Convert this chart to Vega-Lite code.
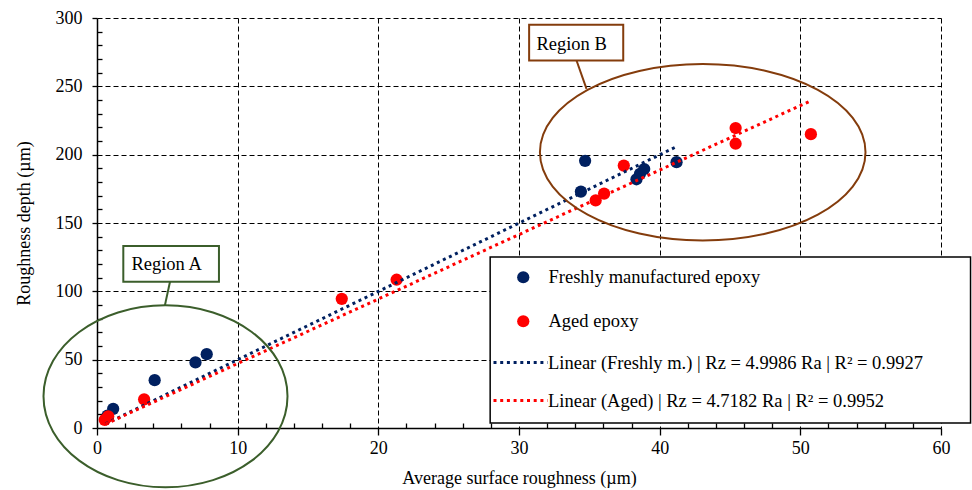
{
  "$schema": "https://vega.github.io/schema/vega-lite/v6.json",
  "width": 844,
  "height": 410,
  "autosize": {"type": "none"},
  "padding": {"left": 97, "top": 18, "right": 31, "bottom": 62},
  "background": "white",
  "config": {"font": "Liberation Serif", "view": {"stroke": null}},
  "datasets": {
    "points": [
      {"series": "Freshly manufactured epoxy", "ra": 0.75, "rz": 9},
      {"series": "Freshly manufactured epoxy", "ra": 1.15, "rz": 14},
      {"series": "Freshly manufactured epoxy", "ra": 4.1, "rz": 35},
      {"series": "Freshly manufactured epoxy", "ra": 7.0, "rz": 48},
      {"series": "Freshly manufactured epoxy", "ra": 7.8, "rz": 54},
      {"series": "Freshly manufactured epoxy", "ra": 34.4, "rz": 173},
      {"series": "Freshly manufactured epoxy", "ra": 34.7, "rz": 195.5},
      {"series": "Freshly manufactured epoxy", "ra": 38.35, "rz": 182},
      {"series": "Freshly manufactured epoxy", "ra": 38.6, "rz": 186},
      {"series": "Freshly manufactured epoxy", "ra": 38.9, "rz": 189.5},
      {"series": "Freshly manufactured epoxy", "ra": 41.2, "rz": 194.5},
      {"series": "Aged epoxy", "ra": 0.55, "rz": 6},
      {"series": "Aged epoxy", "ra": 0.8, "rz": 8.5},
      {"series": "Aged epoxy", "ra": 3.35, "rz": 21},
      {"series": "Aged epoxy", "ra": 17.4, "rz": 94.5},
      {"series": "Aged epoxy", "ra": 21.3, "rz": 108.5},
      {"series": "Aged epoxy", "ra": 35.45, "rz": 166.5},
      {"series": "Aged epoxy", "ra": 36.05, "rz": 171.5},
      {"series": "Aged epoxy", "ra": 37.45, "rz": 192},
      {"series": "Aged epoxy", "ra": 45.4, "rz": 208},
      {"series": "Aged epoxy", "ra": 45.4, "rz": 219.5},
      {"series": "Aged epoxy", "ra": 50.75, "rz": 215}
    ],
    "fits": [
      {"fit": "Linear (Freshly m.) | Rz = 4.9986 Ra | R² = 0.9927", "ra": 0.6, "rz": 3.0},
      {"fit": "Linear (Freshly m.) | Rz = 4.9986 Ra | R² = 0.9927", "ra": 41.2, "rz": 205.9},
      {"fit": "Linear (Aged) | Rz = 4.7182 Ra | R² = 0.9952", "ra": 0.6, "rz": 2.83},
      {"fit": "Linear (Aged) | Rz = 4.7182 Ra | R² = 0.9952", "ra": 50.65, "rz": 239.0}
    ]
  },
  "layer": [
    {
      "data": {"name": "points"},
      "mark": {"type": "point", "filled": true, "size": 150, "opacity": 1},
      "encoding": {
        "x": {
          "field": "ra", "type": "quantitative",
          "scale": {"domain": [0, 60], "nice": false, "zero": false},
          "axis": {
            "title": "Average surface roughness (µm)",
            "values": [0,2,4,6,8,10,12,14,16,18,20,22,24,26,28,30,32,34,36,38,40,42,44,46,48,50,52,54,56,58,60],
            "tickCount": 200,
            "format": "d",
            "labelExpr": "datum.value % 10 === 0 ? datum.label : ''",
            "labelOverlap": false,
            "labelFlush": false,
            "tickSize": {"condition": {"test": "datum.value % 10 === 0", "value": 7}, "value": -5},
            "grid": true,
            "gridOpacity": {"condition": {"test": "datum.value % 10 === 0 && datum.value > 0", "value": 1}, "value": 0},
            "gridDash": [5, 3], "gridColor": "#000", "gridWidth": 1,
            "domainColor": "#000", "domainWidth": 1.5,
            "tickColor": "#000", "tickWidth": 1.3,
            "labelFont": "Liberation Serif", "labelFontSize": 18, "labelColor": "#000", "labelPadding": 4,
            "titleFont": "Liberation Serif", "titleFontSize": 18, "titleFontWeight": "normal", "titleColor": "#000", "titlePadding": 12
          }
        },
        "y": {
          "field": "rz", "type": "quantitative",
          "scale": {"domain": [0, 300], "nice": false, "zero": false},
          "axis": {
            "title": "Roughness depth (µm)",
            "values": [0,10,20,30,40,50,60,70,80,90,100,110,120,130,140,150,160,170,180,190,200,210,220,230,240,250,260,270,280,290,300],
            "tickCount": 200,
            "format": "d",
            "labelExpr": "datum.value % 50 === 0 ? datum.label : ''",
            "labelOverlap": false,
            "labelFlush": false,
            "tickSize": {"condition": {"test": "datum.value % 50 === 0", "value": 5}, "value": -5},
            "grid": true,
            "gridOpacity": {"condition": {"test": "datum.value % 50 === 0 && datum.value > 0", "value": 1}, "value": 0},
            "gridDash": [5, 3], "gridColor": "#000", "gridWidth": 1,
            "domainColor": "#000", "domainWidth": 1.5,
            "tickColor": "#000", "tickWidth": 1.3,
            "labelFont": "Liberation Serif", "labelFontSize": 18, "labelColor": "#000", "labelPadding": 10,
            "titleFont": "Liberation Serif", "titleFontSize": 18, "titleFontWeight": "normal", "titleColor": "#000", "titlePadding": 22
          }
        },
        "color": {
          "field": "series", "type": "nominal",
          "scale": {"domain": ["Freshly manufactured epoxy", "Aged epoxy"], "range": ["#002060", "#FF0000"]},
          "legend": {
            "orient": "none", "legendX": 417, "legendY": 250, "title": null,
            "symbolType": "circle", "symbolSize": 150, "symbolOpacity": 1, "symbolStrokeWidth": 0,
            "labelFont": "Liberation Serif", "labelFontSize": 18.5, "labelColor": "#000",
            "labelOffset": 16, "rowPadding": 25, "padding": 0, "labelLimit": 600
          }
        }
      }
    },
    {
      "data": {"name": "fits"},
      "mark": {"type": "line", "strokeDash": [3, 3.7], "strokeWidth": 3},
      "encoding": {
        "x": {"field": "ra", "type": "quantitative"},
        "y": {"field": "rz", "type": "quantitative"},
        "stroke": {
          "field": "fit", "type": "nominal",
          "scale": {"domain": ["Linear (Freshly m.) | Rz = 4.9986 Ra | R² = 0.9927", "Linear (Aged) | Rz = 4.7182 Ra | R² = 0.9952"], "range": ["#002060", "#FF0000"]},
          "legend": {
            "orient": "none", "legendX": 395, "legendY": 316, "title": null,
            "symbolType": "stroke", "symbolSize": 2916, "symbolDash": [3, 3.7], "symbolStrokeWidth": 3,
            "labelFont": "Liberation Serif", "labelFontSize": 18.5, "labelColor": "#000",
            "labelOffset": -1, "rowPadding": -11, "padding": 0, "labelLimit": 600
          }
        }
      }
    },
    {
      "data": {"values": [{}]},
      "mark": {"type": "rect", "fill": "white", "stroke": "#000", "strokeWidth": 1.5},
      "encoding": {
        "x": {"datum": 27.95}, "x2": {"datum": 62.1},
        "y": {"datum": 125.1}, "y2": {"datum": 3.7}
      }
    },
    {
      "data": {"values": [{}]},
      "mark": {"type": "point", "filled": false, "shape": "M -1 0 A 1 0.746 0 1 1 1 0 A 1 0.746 0 1 1 -1 0 Z", "size": 59536, "stroke": "#3B5E2B", "strokeWidth": 2, "opacity": 1},
      "encoding": {"x": {"datum": 4.87}, "y": {"datum": 23.2}}
    },
    {
      "data": {"values": [{}]},
      "mark": {"type": "point", "filled": false, "shape": "M -1 0 A 1 0.542 0 1 1 1 0 A 1 0.542 0 1 1 -1 0 Z", "size": 106015, "stroke": "#843C0C", "strokeWidth": 2, "opacity": 1},
      "encoding": {"x": {"datum": 43.06}, "y": {"datum": 201.8}}
    },
    {
      "data": {"values": [{}]},
      "mark": {"type": "rule", "stroke": "#3B5E2B", "strokeWidth": 2},
      "encoding": {"x": {"datum": 5.19}, "y": {"datum": 107}, "x2": {"datum": 4.83}, "y2": {"datum": 89.9}}
    },
    {
      "data": {"values": [{}]},
      "mark": {"type": "rule", "stroke": "#843C0C", "strokeWidth": 2},
      "encoding": {"x": {"datum": 34.09}, "y": {"datum": 268.9}, "x2": {"datum": 34.8}, "y2": {"datum": 248.2}}
    },
    {
      "data": {"values": [{}]},
      "mark": {"type": "rect", "fill": "white", "stroke": "#3B5E2B", "strokeWidth": 2},
      "encoding": {"x": {"datum": 1.87}, "x2": {"datum": 8.67}, "y": {"datum": 133.1}, "y2": {"datum": 107}}
    },
    {
      "data": {"values": [{}]},
      "mark": {"type": "rect", "fill": "white", "stroke": "#843C0C", "strokeWidth": 2},
      "encoding": {"x": {"datum": 30.72}, "x2": {"datum": 37.41}, "y": {"datum": 295.1}, "y2": {"datum": 268.9}}
    },
    {
      "data": {"values": [{"label": "Region A"}]},
      "mark": {"type": "text", "font": "Liberation Serif", "fontSize": 18.5, "color": "#000", "align": "center", "baseline": "middle"},
      "encoding": {"x": {"datum": 4.95}, "y": {"datum": 120}, "text": {"field": "label"}}
    },
    {
      "data": {"values": [{"label": "Region B"}]},
      "mark": {"type": "text", "font": "Liberation Serif", "fontSize": 18.5, "color": "#000", "align": "center", "baseline": "middle"},
      "encoding": {"x": {"datum": 33.74}, "y": {"datum": 281.2}, "text": {"field": "label"}}
    }
  ]
}
